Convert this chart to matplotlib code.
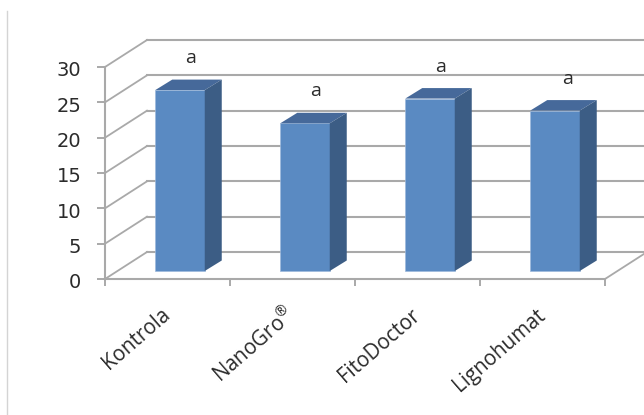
import matplotlib
matplotlib.use('Agg')
import matplotlib.pyplot as plt
from matplotlib.lines import Line2D
from matplotlib.patches import Polygon
from matplotlib.transforms import ScaledTranslation

plt.rcParams['mathtext.default'] = 'regular'
plt.rcParams['font.family'] = ['Open Sans', 'DejaVu Sans']

categories = ['Kontrola', 'NanoGro$^{®}$', 'FitoDoctor', 'Lignohumat']
values = [25.6, 20.9, 24.4, 22.7]
letters = ['a', 'a', 'a', 'a']
y_ticks = [0, 5, 10, 15, 20, 25, 30]

# Axes box in pixels, front plane of the fake 3D chart
W, H = 644, 415
LEFT, RIGHT, BOTTOM, TOP = 105, 605, 279, 67
X_UNIT = (RIGHT - LEFT) / 4
Y_UNIT = (BOTTOM - TOP) / 30

GRID = '#a9a9a9'
FRONT = '#5a8ac2'
ROOF = '#46699a'
SIDE = '#3c5d85'


def px_x(p):
    return p / X_UNIT


def px_y(p):
    return p / Y_UNIT


fig = plt.figure(figsize=(W / 100, H / 100), dpi=100)
ax = fig.add_axes([LEFT / W, 1 - BOTTOM / H, (RIGHT - LEFT) / W, (BOTTOM - TOP) / H])
ax.set_xlim(0, 4)
ax.set_ylim(0, 30)
ax.patch.set_alpha(0)

# Depth of the back wall
depth_x = px_x(42)
depth_y = px_y(27)

# Back wall gridlines and the side wall diagonals
for v in y_ticks:
    ax.plot([0, depth_x], [v, v + depth_y], color=GRID, lw=1.3, clip_on=False, zorder=1)
    ax.plot([depth_x, 4 + depth_x], [v + depth_y, v + depth_y], color=GRID, lw=1.5,
            clip_on=False, zorder=1)
ax.plot([4, 4 + depth_x], [0, depth_y], color=GRID, lw=1.3, clip_on=False, zorder=1)

# Bars: front face, then roof and side
bar_w = px_x(49.5)
bar_dx = px_x(17)
bar_dy = px_y(10.5)
base_x = px_x(12.5)
base_y = px_y(8)
for i, v in enumerate(values):
    x0 = i + 0.5 + base_x - bar_w / 2
    x1 = x0 + bar_w
    top = base_y + v
    ax.bar(x0, v, width=bar_w, bottom=base_y, align='edge', color=FRONT,
           edgecolor='#9db9dc', linewidth=0.5, zorder=3)
    ax.add_patch(Polygon([(x0, top), (x1, top), (x1 + bar_dx, top + bar_dy), (x0 + bar_dx, top + bar_dy)],
                         closed=True, facecolor=ROOF, edgecolor='none', zorder=3, clip_on=False))
    ax.add_patch(Polygon([(x1, base_y), (x1 + bar_dx, base_y + bar_dy), (x1 + bar_dx, top + bar_dy), (x1, top)],
                         closed=True, facecolor=SIDE, edgecolor='none', zorder=3, clip_on=False))
    # Significance letter above the bar
    nudge = 2 if i == 3 else 0
    ax.annotate(letters[i], (i + 0.5 + base_x, top), xytext=(10.5 + nudge, 32), textcoords='offset pixels',
                ha='center', va='center', fontsize=14, color='#2b2b2b',
                annotation_clip=False, zorder=4)

# Axes lines and ticks
for side in ['top', 'right']:
    ax.spines[side].set_visible(False)
for side in ['left', 'bottom']:
    ax.spines[side].set_color(GRID)
    ax.spines[side].set_linewidth(1.5)
    ax.spines[side].set_zorder(2)

ax.set_yticks(y_ticks)
ax.tick_params(axis='y', length=6, width=1.4, color=GRID, labelsize=14, labelcolor='#2b2b2b', pad=11)
shift_down = ScaledTranslation(0, -2 / 100, fig.dpi_scale_trans)
for lab in ax.get_yticklabels():
    lab.set_family('DejaVu Sans')
    lab.set_transform(lab.get_transform() + shift_down)
ax.set_xticks([0, 1, 2, 3, 4])
ax.set_xticklabels([])
ax.tick_params(axis='x', which='major', length=5, width=1.4, color=GRID)
ax.set_xticks([0.5, 1.5, 2.5, 3.5], minor=True)
ax.set_xticklabels(categories, minor=True, rotation=41, ha='right', va='center', rotation_mode='anchor',
                   fontsize=14.8, color='#2b2b2b')
ax.tick_params(axis='x', which='minor', length=0, pad=24)

# Thin rule along the left edge
fig.add_artist(Line2D([7 / W, 7 / W], [0, 1 - 11 / H], color='#d4d4d4', lw=1))

fig.savefig('out.png', dpi=100)
